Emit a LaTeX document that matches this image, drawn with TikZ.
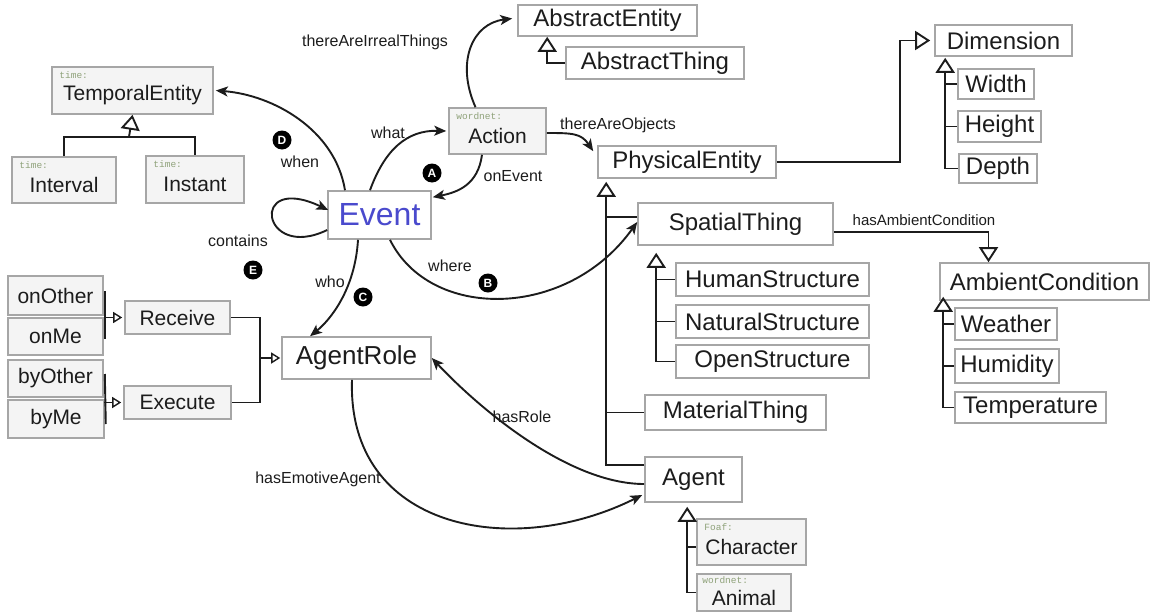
\documentclass[tikz,border=0pt]{standalone}
\usepackage{fontspec}
\setmainfont{Liberation Sans}
\newfontfamily\prefixfont{Liberation Mono}
\usetikzlibrary{arrows.meta}

\definecolor{boxline}{HTML}{A6A6A6}
\definecolor{boxfill}{HTML}{F4F4F4}
\definecolor{pfxcol}{HTML}{8FA27A}
\definecolor{evblue}{HTML}{4A4ACD}
\definecolor{ink}{HTML}{1C1C1C}

% lower the text of a box that carries a namespace prefix
\newcommand\dropby[2]{\raisebox{-#1}[\height][\depth]{#2}}

\tikzset{
  box/.style={draw=boxline, line width=1.6pt, fill=white, inner sep=0pt,
    text=ink, font=\fontsize{24}{28}\selectfont},
  gbox/.style={box, fill=boxfill, font=\fontsize{21}{25}\selectfont},
  sz/.style 2 args={minimum width=#1pt, minimum height=#2pt},
  rel/.style={draw=ink, line width=1.9pt, -{Stealth[length=12pt,width=10pt,inset=3pt]}},
  isa/.style={draw=ink, line width=1.9pt},
  tri/.style={isa, -{Triangle[length=15pt,width=19pt,fill=white]}},
  smalltri/.style={draw=ink, line width=1.4pt, -{Triangle[length=9pt,width=11pt,fill=white]}},
  lbl/.style={font=\fontsize{16}{18}\selectfont, text=ink, inner sep=1pt},
  badge/.style={circle, fill=black, text=white, inner sep=0pt, minimum size=19pt,
    font=\bfseries\fontsize{12}{13}\selectfont},
  pfx/.style={anchor=north west, inner sep=0pt,
    font=\prefixfont\fontsize{9.5}{10}\selectfont, text=pfxcol},
}

\begin{document}
\begin{tikzpicture}[x=1pt,y=-1pt]
\useasboundingbox (0,0) rectangle (1153,613);

% ---------- time ----------
\node[gbox, sz={161}{47}] (TemporalEntity) at (132.5,90.5) {\dropby{5pt}{TemporalEntity}};
\node[gbox, sz={104}{46}] (Interval) at (64,180) {\dropby{5pt}{Interval}};
\node[gbox, sz={98}{47}] (Instant) at (195,179.5) {\dropby{5pt}{Instant}};
\node[pfx] (pTE) at ([xshift=8pt,yshift=-5pt]TemporalEntity.north west) {time:};
\node[pfx] (pIv) at ([xshift=8pt,yshift=-5pt]Interval.north west) {time:};
\node[pfx] (pIs) at ([xshift=8pt,yshift=-5pt]Instant.north west) {time:};
\coordinate (tjoin) at (129,137);
\draw[isa] (Interval.north) |- (tjoin) -| (Instant.north);
\draw[tri] (tjoin) -- (TemporalEntity.south);

% ---------- abstract ----------
\node[box, sz={179}{31}] (AbstractEntity) at (607.5,20.5) {AbstractEntity};
\node[box, sz={178}{32}] (AbstractThing) at (655,63) {AbstractThing};
\draw[tri] (AbstractThing.west) -| ([xshift=30pt]AbstractEntity.south west);

% ---------- action ----------
\node[gbox, sz={97}{46}] (Action) at (497.5,131) {\dropby{5pt}{Action}};
\node[pfx] (pAc) at ([xshift=8pt,yshift=-5pt]Action.north west) {wordnet:};

% ---------- physical ----------
\node[box, sz={178}{32}] (PhysicalEntity) at (687,162) {PhysicalEntity};
\node[box, sz={137}{31}] (Dimension) at (1003.5,40.5) {Dimension};
\node[box, sz={76}{30}] (Width) at (996,84) {Width};
\node[box, sz={83}{31}] (Height) at (999.5,126.5) {Height};
\node[box, sz={78}{29}] (Depth) at (998,168.5) {Depth};
\coordinate (pebend) at (900,100);
\draw[tri] (PhysicalEntity.east) -| (pebend) |- ([xshift=-4pt]Dimension.west);
\coordinate (dimstem) at ([xshift=11pt,yshift=-1pt]Dimension.south west);
\draw[tri] (Depth.west) -| (dimstem);
\draw[isa] (Width.west) -- (Width.west -| dimstem);
\draw[isa] (Height.west) -- (Height.west -| dimstem);

\node[box, sz={195}{42}] (SpatialThing) at (735.5,224) {SpatialThing};
\node[box, sz={193}{33}] (HumanStructure) at (772.5,279.5) {HumanStructure};
\node[box, sz={193}{33}] (NaturalStructure) at (772.5,321.5) {NaturalStructure};
\node[box, sz={193}{33}] (OpenStructure) at (772.5,361.5) {OpenStructure};
\coordinate (ststem) at ([xshift=19pt,yshift=-7pt]SpatialThing.south west);
\draw[tri] (OpenStructure.west) -| (ststem);
\draw[isa] (HumanStructure.west) -- (HumanStructure.west -| ststem);
\draw[isa] (NaturalStructure.west) -- (NaturalStructure.west -| ststem);

\node[box, sz={209}{37}] (AmbientCondition) at (1044.5,281.5) {AmbientCondition};
\node[box, sz={102}{32}] (Weather) at (1006,324) {Weather};
\node[box, sz={104}{34}] (Humidity) at (1007,366) {Humidity};
\node[box, sz={151}{31}] (Temperature) at (1030.5,407.5) {Temperature};
\coordinate (acstem) at ([xshift=4pt,yshift=4pt]AmbientCondition.south west);
\draw[tri] (Temperature.west) -| (acstem);
\draw[isa] (Weather.west) -- (Weather.west -| acstem);
\draw[isa] (Humidity.west) -- (Humidity.west -| acstem);
\draw[tri] ([yshift=-8pt]SpatialThing.east) -| ([xshift=-56pt]AmbientCondition.north);
\node[lbl, font=\fontsize{15}{17}\selectfont] (lAmb) at (924,220) {hasAmbientCondition};

\node[box, sz={181}{35}] (MaterialThing) at (735.5,412.5) {MaterialThing};
\node[box, sz={97}{45}] (Agent) at (693.5,479.5) {Agent};
\node[gbox, sz={109}{46}] (Character) at (751.5,542) {\dropby{5pt}{Character}};
\node[gbox, sz={94}{37}] (Animal) at (744,592.5) {\dropby{5pt}{Animal}};
\node[pfx] (pCh) at ([xshift=8pt,yshift=-5pt]Character.north west) {Foaf:};
\node[pfx] (pAn) at ([xshift=6pt,yshift=-3pt]Animal.north west) {wordnet:};
\coordinate (agstem) at ([xshift=43pt,yshift=-4pt]Agent.south west);
\draw[tri] (Animal.west) -| (agstem);
\draw[isa] ([yshift=-5pt]Character.west) -- ([yshift=-5pt]Character.west -| agstem);

\coordinate (pestem) at ([xshift=9pt,yshift=-3pt]PhysicalEntity.south west);
\draw[tri] ([yshift=-9pt]Agent.north west) -| (pestem);
\draw[isa] ([yshift=7pt]SpatialThing.west) -- ([yshift=7pt]SpatialThing.west -| pestem);
\draw[isa] (MaterialThing.west) -- (MaterialThing.west -| pestem);

% ---------- event and roles ----------
\node[box, sz={103}{48}, font=\fontsize{32}{36}\selectfont, text=evblue] (Event) at (379.5,215) {Event};
\node[box, sz={149}{42}, font=\fontsize{26}{30}\selectfont] (AgentRole) at (356.5,358) {AgentRole};
\node[gbox, sz={105}{33}] (Receive) at (177.5,317.5) {Receive};
\node[gbox, sz={107}{33}] (Execute) at (177.5,402.5) {Execute};
\node[gbox, sz={95}{39}] (onOther) at (55.5,295.5) {onOther};
\node[gbox, sz={95}{37}] (onMe) at (55.5,336.5) {onMe};
\node[gbox, sz={95}{37}] (byOther) at (55.5,378.5) {byOther};
\node[gbox, sz={96}{38}] (byMe) at (56,419) {byMe};

\draw[isa] ([xshift=1pt,yshift=4.5pt]onOther.east) -- ([xshift=1pt,yshift=-2.5pt]onMe.east);
\draw[smalltri, shorten >=2pt] (Receive.west -| onOther.east) -- (Receive.west);
\draw[isa] ([xshift=1pt,yshift=4.5pt]byOther.east) -- ([xshift=1pt,yshift=-5pt]byMe.east);
\draw[smalltri, shorten >=2pt] (Execute.west -| byOther.east) -- (Execute.west);
\coordinate (rejoin) at (260,358);
\draw[isa, line width=1.5pt] (Receive.east) -| (rejoin) |- (Execute.east);
\draw[smalltri, shorten >=1pt] (rejoin) -- (AgentRole.west);

% ---------- relations ----------
\draw[rel] ([xshift=-34.5pt]Event.north) .. controls +(-10,-61) and +(57,4.5) .. ([xshift=2pt]TemporalEntity.east);
\draw[rel] ([xshift=-9.5pt]Event.north) .. controls +(15,-41) and +(-39,-1) .. ([xshift=-2pt]Action.west);
\draw[rel] ([xshift=-15.5pt]Action.south) .. controls +(-4,30) and +(25,-5) .. ([xshift=1pt,yshift=-7pt]Event.north east);
\draw[rel] ([xshift=-22pt]Action.north) .. controls +(-20,-45) and +(-40,5) .. ([xshift=-5pt,yshift=2pt]AbstractEntity.west);
\draw[rel] ([yshift=-2pt]Action.east) .. controls +(25,0) and +(-12,-18) .. ([xshift=-4pt,yshift=-6pt]PhysicalEntity.north west);
\draw[rel] ([yshift=-15pt]Event.west) .. controls +(-66,32) and +(-80,-38) .. ([xshift=1pt,yshift=5pt]Event.west);
\draw[rel] ([xshift=-21.5pt]Event.south) .. controls +(-3,50) and +(20,-16) .. ([xshift=-46.5pt]AgentRole.north);
\draw[rel] ([xshift=10.5pt]Event.south) .. controls +(40,81) and +(-70,98) .. ([yshift=2pt]SpatialThing.west);
\draw[rel] ([yshift=-4.5pt]Agent.west) .. controls +(-75,0) and +(49,52) .. (AgentRole.east);
\draw[rel] ([xshift=-4.5pt]AgentRole.south) .. controls +(-5,150) and +(-130,65) .. ([xshift=-2pt,yshift=-15.5pt]Agent.west);

% ---------- relation labels ----------
\node[lbl] (lWhen) at (300,162) {when};
\node[lbl] (lWhat) at (388,133) {what};
\node[lbl] (lOnEvent) at (513,176) {onEvent};
\node[lbl] (lIrreal) at (375,42) {thereAreIrrealThings};
\node[lbl] (lObjects) at (618,125) {thereAreObjects};
\node[lbl] (lContains) at (238,241) {contains};
\node[lbl] (lWho) at (330,282) {who};
\node[lbl] (lWhere) at (450,266) {where};
\node[lbl] (lRole) at (522,417) {hasRole};
\node[lbl] (lEmotive) at (318,479) {hasEmotiveAgent};

\node[badge] (bD) at (282,140) {D};
\node[badge] (bA) at (432,173) {A};
\node[badge] (bE) at (253,270) {E};
\node[badge] (bC) at (363,297) {C};
\node[badge] (bB) at (488,283) {B};
\end{tikzpicture}
\end{document}
